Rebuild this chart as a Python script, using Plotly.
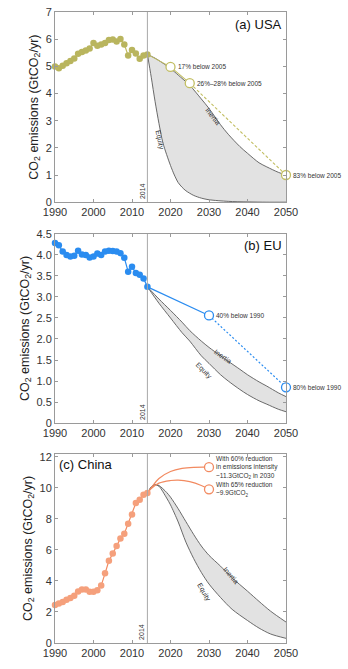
import plotly.graph_objects as go
from plotly.subplots import make_subplots

years_hist = list(range(1990, 2015))

usa_hist = [4.99, 4.93, 5.02, 5.11, 5.20, 5.29, 5.46, 5.53, 5.58, 5.66, 5.86, 5.76, 5.80,
            5.86, 5.97, 5.99, 5.91, 6.01, 5.80, 5.40, 5.60, 5.47, 5.28, 5.40, 5.44]
eu_hist = [4.28, 4.23, 4.08, 4.00, 3.96, 3.98, 4.10, 4.01, 4.00, 3.94, 3.96, 4.03, 4.00,
           4.08, 4.10, 4.09, 4.08, 4.04, 3.93, 3.60, 3.72, 3.57, 3.53, 3.44, 3.24]
china_hist = [2.45, 2.55, 2.65, 2.78, 2.90, 3.05, 3.32, 3.45, 3.45, 3.30, 3.30, 3.40, 3.70,
              4.49, 5.30, 5.76, 6.25, 6.74, 7.04, 7.68, 8.28, 9.02, 9.23, 9.55, 9.66]

# USA scenarios
usa_inertia_x = [2014, 2016, 2018, 2020, 2022, 2025, 2028, 2030, 2033, 2035, 2038, 2040, 2043, 2045, 2048, 2050]
usa_inertia_y = [5.44, 5.30, 5.12, 4.92, 4.68, 4.30, 3.80, 3.45, 2.85, 2.50, 2.05, 1.80, 1.45, 1.30, 1.10, 1.00]
usa_equity_x = [2014, 2015, 2016, 2017, 2018, 2019, 2020, 2021, 2022, 2023, 2024, 2026, 2028, 2030, 2035, 2040, 2045, 2050]
usa_equity_y = [5.44, 4.60, 3.70, 2.90, 2.20, 1.75, 1.35, 1.00, 0.72, 0.55, 0.42, 0.25, 0.15, 0.09, 0.03, 0.01, 0.0, 0.0]
usa_target_x = [2014, 2020, 2025]
usa_target_y = [5.44, 4.98, 4.38]
usa_target_dash_x = [2025, 2050]
usa_target_dash_y = [4.38, 1.00]
usa_circle_x = [2020, 2025, 2050]
usa_circle_y = [4.98, 4.38, 1.00]
usa_circle_text = ["17% below 2005", "26%\u201328% below 2005", "83% below 2005"]

# EU scenarios
eu_inertia_x = [2014, 2017, 2020, 2023, 2025, 2028, 2030, 2033, 2035, 2038, 2040, 2043, 2045, 2048, 2050]
eu_inertia_y = [3.24, 2.95, 2.68, 2.40, 2.20, 1.95, 1.80, 1.60, 1.47, 1.28, 1.15, 0.98, 0.88, 0.72, 0.63]
eu_equity_x = [2014, 2017, 2020, 2023, 2025, 2028, 2030, 2033, 2035, 2038, 2040, 2043, 2045, 2048, 2050]
eu_equity_y = [3.24, 2.85, 2.50, 2.15, 1.95, 1.60, 1.42, 1.15, 1.00, 0.80, 0.68, 0.53, 0.45, 0.33, 0.27]
eu_target_x = [2014, 2030]
eu_target_y = [3.24, 2.56]
eu_target_dash_x = [2030, 2050]
eu_target_dash_y = [2.56, 0.85]
eu_circle_x = [2030, 2050]
eu_circle_y = [2.56, 0.85]
eu_circle_text = ["40% below 1990", "80% below 1990"]

# China scenarios
cn_inertia_x = [2014, 2015, 2016, 2017, 2019, 2020, 2022, 2024, 2026, 2028, 2030, 2033, 2036, 2040, 2043, 2046, 2050]
cn_inertia_y = [9.66, 10.05, 10.20, 10.15, 9.70, 9.40, 8.65, 7.82, 7.00, 6.25, 5.65, 4.95, 4.20, 3.34, 2.68, 2.05, 1.35]
cn_equity_x = [2014, 2015, 2016, 2017, 2019, 2020, 2022, 2024, 2026, 2028, 2030, 2033, 2036, 2040, 2043, 2046, 2050]
cn_equity_y = [9.66, 10.05, 10.20, 10.10, 9.34, 8.90, 7.80, 6.50, 5.45, 4.55, 3.80, 2.93, 2.17, 1.45, 0.96, 0.58, 0.30]
cn_high_x = [2014, 2015, 2017, 2020, 2023, 2026, 2030]
cn_high_y = [9.66, 10.00, 10.60, 11.05, 11.25, 11.32, 11.33]
cn_low_x = [2014, 2015, 2017, 2020, 2022, 2025, 2028, 2030]
cn_low_y = [9.66, 9.95, 10.30, 10.47, 10.50, 10.40, 10.15, 9.90]
cn_circle_x = [2030, 2030]
cn_circle_y = [11.33, 9.90]
cn_circle_text = ["With 60% reduction<br>in emissions intensity<br>~11.3GtCO<sub>2</sub> in 2030",
                  "With 65% reduction<br>~9.9GtCO<sub>2</sub>"]

USA_C = "#b9b55e"
USA_L = "#c2be62"
EU_C = "#2a8cf0"
CN_C = "#f5a07c"
CN_L = "#f28a60"
BAND_FILL = "#e2e2e2"
BAND_LINE = "#5a5a5a"
FONT = "Liberation Sans, Arial, sans-serif"

fig = make_subplots(rows=3, cols=1, vertical_spacing=0.05)

def band(row, ix, iy, ex, ey):
    fig.add_trace(go.Scatter(x=ex, y=ey, mode="lines", line=dict(color=BAND_LINE, width=0.9, shape="spline", smoothing=0.8),
                             showlegend=False, hoverinfo="skip"), row=row, col=1)
    fig.add_trace(go.Scatter(x=ix, y=iy, mode="lines", line=dict(color=BAND_LINE, width=0.9, shape="spline", smoothing=0.8),
                             fill="tonexty", fillcolor=BAND_FILL, showlegend=False, hoverinfo="skip"), row=row, col=1)

def hist(row, y, mcolor, lcolor):
    fig.add_trace(go.Scatter(x=years_hist, y=y, mode="lines+markers", line=dict(color=lcolor, width=1.2),
                             marker=dict(color=mcolor, size=6.5), cliponaxis=False, showlegend=False), row=row, col=1)

def circles(row, x, y, color):
    fig.add_trace(go.Scatter(x=x, y=y, mode="markers", marker=dict(symbol="circle", size=9, color="white",
                             line=dict(color=color, width=1.3)), cliponaxis=False, showlegend=False), row=row, col=1)

# USA
band(1, usa_inertia_x, usa_inertia_y, usa_equity_x, usa_equity_y)
fig.add_trace(go.Scatter(x=usa_target_x, y=usa_target_y, mode="lines", line=dict(color=USA_L, width=1.1),
                         showlegend=False), row=1, col=1)
fig.add_trace(go.Scatter(x=usa_target_dash_x, y=usa_target_dash_y, mode="lines",
                         line=dict(color=USA_L, width=1.1, dash="3px,2px"), showlegend=False), row=1, col=1)
hist(1, usa_hist, USA_C, USA_L)
circles(1, usa_circle_x, usa_circle_y, USA_L)

# EU
band(2, eu_inertia_x, eu_inertia_y, eu_equity_x, eu_equity_y)
fig.add_trace(go.Scatter(x=eu_target_x, y=eu_target_y, mode="lines", line=dict(color=EU_C, width=1.2),
                         showlegend=False), row=2, col=1)
fig.add_trace(go.Scatter(x=eu_target_dash_x, y=eu_target_dash_y, mode="lines",
                         line=dict(color=EU_C, width=1.2, dash="2px,2px"), showlegend=False), row=2, col=1)
hist(2, eu_hist, EU_C, EU_C)
circles(2, eu_circle_x, eu_circle_y, EU_C)

# China
band(3, cn_inertia_x, cn_inertia_y, cn_equity_x, cn_equity_y)
for xs, ys in [(cn_high_x, cn_high_y), (cn_low_x, cn_low_y)]:
    fig.add_trace(go.Scatter(x=xs, y=ys, mode="lines", line=dict(color=CN_L, width=1.2, shape="spline"),
                             showlegend=False), row=3, col=1)
hist(3, china_hist, CN_C, CN_L)
circles(3, cn_circle_x, cn_circle_y, CN_L)

# Layout
domains = [[0.6986, 1.0], [0.3485, 0.6484], [0.0, 0.2998]]
yranges = [[0, 7], [0, 4.5], [0, 12.19]]
ytickvals = [list(range(0, 8)), [0, 0.5, 1, 1.5, 2, 2.5, 3, 3.5, 4, 4.5], [0, 2, 4, 6, 8, 10, 12]]
yticktext = [[str(v) for v in range(0, 8)],
             ["0", "0.5", "1.0", "1.5", "2.0", "2.5", "3.0", "3.5", "4.0", "4.5"],
             [str(v) for v in [0, 2, 4, 6, 8, 10, 12]]]

axis_common = dict(showline=True, linecolor="#9a9a9a", linewidth=1, mirror="ticks", ticks="inside",
                   ticklen=3, tickcolor="#9a9a9a", showgrid=False, zeroline=False,
                   tickfont=dict(family=FONT, size=11, color="#333333"))

for i in range(3):
    xa = "xaxis" if i == 0 else f"xaxis{i+1}"
    ya = "yaxis" if i == 0 else f"yaxis{i+1}"
    xr = "x" if i == 0 else f"x{i+1}"
    yr = "y" if i == 0 else f"y{i+1}"
    fig.layout[xa].update(range=[1990, 2050], tickvals=list(range(1990, 2051, 10)), **axis_common)
    fig.layout[ya].update(range=yranges[i], domain=domains[i], tickvals=ytickvals[i], ticktext=yticktext[i],
                          title=dict(text="CO<sub>2</sub> emissions (GtCO<sub>2</sub>/yr)",
                                     font=dict(family=FONT, size=12.5, color="#222222"), standoff=4),
                          **axis_common)
    fig.add_shape(type="line", x0=2014, x1=2014, y0=0, y1=yranges[i][1], xref=xr, yref=yr,
                  line=dict(color="#a8a8a8", width=1))
    fig.add_annotation(x=2014, y=0, xref=xr, yref=yr, text="2014", textangle=-90, showarrow=False,
                       xanchor="right", yanchor="bottom", yshift=1,
                       font=dict(family=FONT, size=7, color="#333333"))

small = dict(family=FONT, size=6.5, color="#333333")
# Circle labels
for row, xs, ys, texts in [(1, usa_circle_x, usa_circle_y, usa_circle_text),
                           (2, eu_circle_x, eu_circle_y, eu_circle_text),
                           (3, cn_circle_x, cn_circle_y, cn_circle_text)]:
    xr = "x" if row == 1 else f"x{row}"
    yr = "y" if row == 1 else f"y{row}"
    for x, y, t in zip(xs, ys, texts):
        fig.add_annotation(x=x, y=y, xref=xr, yref=yr, text=t, showarrow=False, xanchor="left",
                           yanchor="middle", xshift=5, align="left", font=small)

# Inertia / Equity labels
curve_font = dict(family=FONT, size=7, color="#333333")
curve_labels = [
    (1, 2031.0, 3.15, "Inertia", 52),
    (1, 2017.2, 2.3, "Equity", 78),
    (2, 2033.6, 1.58, "Inertia", 35),
    (2, 2028.7, 1.25, "Equity", 45),
    (3, 2035.7, 4.35, "Inertia", 50),
    (3, 2028.8, 3.25, "Equity", 60),
]
for row, x, y, t, ang in curve_labels:
    xr = "x" if row == 1 else f"x{row}"
    yr = "y" if row == 1 else f"y{row}"
    fig.add_annotation(x=x, y=y, xref=xr, yref=yr, text=t, showarrow=False, textangle=ang, font=curve_font)

# Panel titles
title_font = dict(family=FONT, size=13, color="#111111")
fig.add_annotation(x=2049.5, y=6.9, xref="x", yref="y", text="(a) USA", showarrow=False,
                   xanchor="right", yanchor="top", font=title_font)
fig.add_annotation(x=2049.5, y=4.45, xref="x2", yref="y2", text="(b) EU", showarrow=False,
                   xanchor="right", yanchor="top", font=title_font)
fig.add_annotation(x=1990.6, y=12.1, xref="x3", yref="y3", text="(c) China", showarrow=False,
                   xanchor="left", yanchor="top", font=title_font)

fig.update_layout(width=348, height=669, margin=dict(l=55, r=62, t=6, b=26),
                  paper_bgcolor="white", plot_bgcolor="white", showlegend=False,
                  font=dict(family=FONT))

fig.write_html("out.html")
